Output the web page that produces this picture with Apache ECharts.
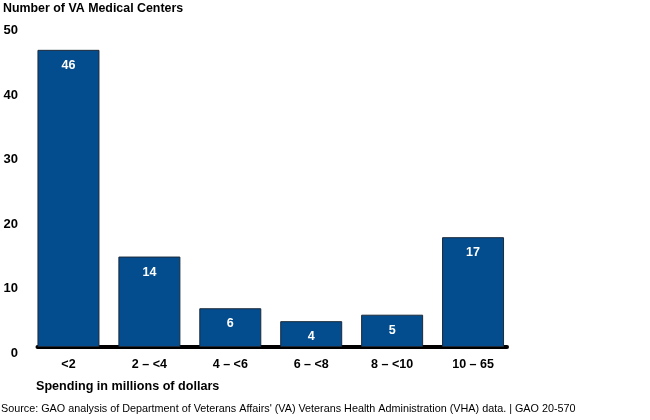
<!DOCTYPE html>
<html><head><meta charset="utf-8">
<script src="https://cdn.jsdelivr.net/npm/echarts@6/dist/echarts.min.js"></script>
<style>html,body{margin:0;padding:0;background:#fff}#c{width:650px;height:420px}</style>
</head><body><div id="c"></div>
<script>
const categories = ['<2', '2 – <4', '4 – <6', '6 – <8', '8 – <10', '10 – 65'];
const counts = [46, 14, 6, 4, 5, 17];
const yTicks = [0, 10, 20, 30, 40, 50];
const titleText = 'Number of VA Medical Centers';
const xName = 'Spending in millions of dollars';
const sourceText = "Source: GAO analysis of Department of Veterans Affairs' (VA) Veterans Health Administration (VHA) data. | GAO 20-570";

const chart = echarts.init(document.getElementById('c'));
const F = 'Liberation Sans, Arial, sans-serif';
chart.setOption({
  animation: false,
  title: [
    {text: titleText, left: 3, top: 3, padding: 0, textStyle: {fontFamily: F, fontSize: 12.4, fontWeight: 'bold', color: '#000'}},
    {text: xName, left: 36, top: 380, padding: 0, textStyle: {fontFamily: F, fontSize: 12.6, fontWeight: 'bold', color: '#000'}},
    {text: sourceText, left: 1, top: 404, padding: 0, textStyle: {fontFamily: F, fontSize: 10.8, fontWeight: 'normal', color: '#000'}}
  ],
  grid: [
    {left: 28, top: 24, width: 485.5, height: 323},
    {left: 37.5, top: 24, width: 469.5, height: 323}
  ],
  xAxis: [{
    type: 'category', data: categories, gridIndex: 0,
    axisLine: {show: false},
    axisTick: {show: false},
    axisLabel: {fontFamily: F, fontSize: 12.5, fontWeight: 'bold', color: '#000', margin: 11}
  }, {
    type: 'category', data: categories, gridIndex: 1,
    axisLine: {show: true, lineStyle: {color: '#000', width: 4}},
    axisTick: {show: false}, axisLabel: {show: false}
  }],
  yAxis: [{
    type: 'value', min: 0, max: 50, interval: 10, gridIndex: 0,
    splitLine: {show: false}, axisLine: {show: false}, axisTick: {show: false},
    axisLabel: {fontFamily: F, fontSize: 13, fontWeight: 'bold', color: '#000', margin: 10, verticalAlign: 'top',
      formatter: v => yTicks.includes(v) ? String(v) : ''}
  }, {
    type: 'value', min: 0, max: 50, gridIndex: 1, show: false
  }],
  series: [{
    type: 'bar', data: counts, barWidth: 62, xAxisIndex: 0, yAxisIndex: 0,
    itemStyle: {color: '#034C8E', borderColor: '#1c2a3a', borderWidth: 1},
    label: {show: true, position: 'insideTop', distance: 9, color: '#fff', fontFamily: F, fontSize: 12.5, fontWeight: 'bold'}
  }]
});
</script></body></html>
